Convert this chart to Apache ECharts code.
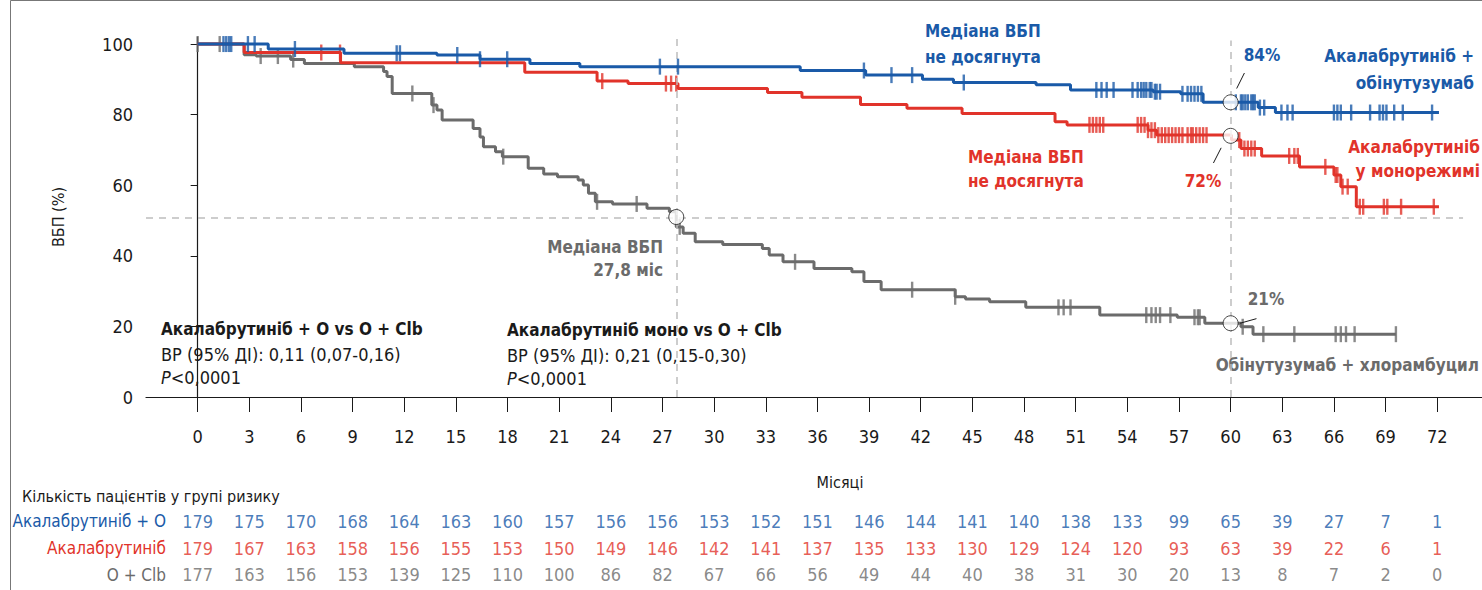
<!DOCTYPE html>
<html>
<head>
<meta charset="utf-8">
<script src="https://cdn.jsdelivr.net/npm/echarts@6.0.0/dist/echarts.min.js"></script>
<style>
  html, body { margin: 0; padding: 0; background: #fff; }
  #chart { width: 1482px; height: 590px; }
</style>
</head>
<body>
<div id="chart"></div>
<script>
// Kaplan-Meier curves (months, % PFS)
var blueT = [0, 4.1, 8.5, 13.9, 16.4, 19.3, 22.2, 35.0, 38.8, 42.1, 43.9, 48.7, 50.7, 55.5, 57.1, 58.4, 61.6, 62.6, 72.1];
var blueS = [100, 98.6, 97.4, 96.9, 95.7, 94.5, 93.6, 92.5, 91.2, 90.0, 89.1, 88.5, 87.0, 86.5, 85.9, 83.5, 82.0, 80.6, 80.6];

var redT = [0, 2.7, 8.3, 19.0, 23.2, 25.0, 27.9, 33.1, 35.1, 38.5, 41.2, 44.4, 49.8, 50.5, 55.2, 55.7, 60.05, 60.6, 61.8, 64.0, 66.0, 66.4, 67.3, 72.1];
var redS = [100, 97.6, 94.7, 92.0, 89.5, 88.8, 87.4, 86.3, 84.9, 82.9, 81.8, 80.3, 78.0, 77.1, 75.6, 74.2, 72.8, 70.4, 68.3, 65.2, 62.9, 59.6, 53.9, 53.9];

var greyT = [0, 2.7, 3.4, 5.4, 6.2, 9.1, 10.8, 11.0, 11.3, 13.6, 13.9, 14.2, 16.0, 16.4, 16.6, 17.3, 17.7, 19.2, 20.1, 20.9, 22.1, 22.4, 22.7, 23.1, 24.1, 26.1, 27.4, 27.8, 28.2, 28.9, 30.5, 32.8, 33.2, 34.0, 35.8, 38.0, 38.7, 39.7, 44.0, 44.6, 46.0, 48.1, 52.4, 56.9, 58.5, 60.6, 61.3, 69.6];
var greyS = [100, 97.0, 96.6, 95.6, 94.5, 93.6, 92.2, 90.8, 86.0, 82.7, 81.3, 78.5, 76.1, 73.7, 70.9, 69.5, 68.1, 64.8, 63.2, 62.4, 61.5, 60.1, 57.7, 55.3, 54.7, 53.5, 52.5, 48.2, 46.4, 44.0, 43.2, 42.1, 40.2, 38.3, 36.4, 35.5, 32.7, 30.4, 28.4, 27.8, 27.0, 25.4, 23.2, 22.6, 20.9, 19.9, 17.8, 17.8];

// censored observations (months)
var blueCens = [1.5, 1.66, 1.82, 1.95, 2.92, 3.31, 5.65, 11.56, 11.75, 15.08, 16.4, 17.98, 26.85, 27.9, 38.7, 40.3, 41.5, 44.5,
  52.2, 52.5, 52.8, 53.2, 54.3, 54.6, 54.8, 54.95, 55.1, 55.3, 55.4, 55.6, 55.7, 55.9, 57.2, 57.5, 57.7, 57.9, 58.1, 58.3,
  60.3, 60.6, 60.7, 60.85, 61.0, 61.2, 61.3, 61.4, 61.7, 61.95, 62.95, 63.3, 63.6, 66.0, 66.2, 66.4, 67.0, 68.1, 68.65,
  68.85, 69.05, 69.5, 70.0, 71.7];
var redCens = [7.18, 8.27, 23.5, 27.2, 27.5, 27.8, 51.8, 52.0, 52.2, 52.4, 52.6, 54.6, 54.8, 55.0, 55.2, 55.4, 55.6, 55.8,
  56.0, 56.2, 56.4, 56.6, 56.8, 57.0, 57.2, 57.5, 57.7, 57.8, 58.0, 58.2, 58.4, 58.6, 60.5, 60.8, 61.0, 61.2, 61.4,
  63.4, 63.7, 63.9, 65.5, 66.1, 66.2, 66.5, 66.8, 67.5, 67.7, 68.9, 69.1, 69.9, 71.8];
var greyCens = [0.0, 1.28, 3.66, 4.66, 5.55, 12.47, 13.7, 17.75, 23.2, 25.5, 28.0, 34.7, 41.5, 44.0, 50.0, 50.3, 50.7,
  55.1, 55.4, 55.65, 55.9, 56.5, 57.9, 58.1, 58.2, 60.7, 61.9, 63.7, 66.1, 66.4, 66.7, 67.2, 69.6];

// medians / landmark
var medianGrey = 27.8;
var landmark = 60;
var medianLevel = 50.8;
var landmarkPts = [[27.8, 51.0], [60, 83.5], [60, 74.0], [60, 20.9]];

// axis ticks
var xTicks = [0, 3, 6, 9, 12, 15, 18, 21, 24, 27, 30, 33, 36, 39, 42, 45, 48, 51, 54, 57, 60, 63, 66, 69, 72];
var yTicks = [0, 20, 40, 60, 80, 100];

// numbers at risk
var riskRows = ['Акалабрутиніб + О', 'Акалабрутиніб', 'О + Clb'];
var riskAO = [179, 175, 170, 168, 164, 163, 160, 157, 156, 156, 153, 152, 151, 146, 144, 141, 140, 138, 133, 99, 65, 39, 27, 7, 1];
var riskA = [179, 167, 163, 158, 156, 155, 153, 150, 149, 146, 142, 141, 137, 135, 133, 130, 129, 124, 120, 93, 63, 39, 22, 6, 1];
var riskOClb = [177, 163, 156, 153, 139, 125, 110, 100, 86, 82, 67, 66, 56, 49, 44, 40, 38, 31, 30, 20, 13, 8, 7, 2, 0];

var BLUE = '#1a5aa8', RED = '#e1332a', GREY = '#6b6b6b', INK = '#1a1a1a';
var FONT = "'Liberation Sans Narrow', 'DejaVu Sans Condensed', Roboto, sans-serif";

function zip(a, b) {
  return a.map(function (v, i) { return [v, b[i]]; });
}
function survAt(T, S, t) {
  var v = S[0];
  for (var i = 0; i < T.length; i++) { if (T[i] <= t) v = S[i]; }
  return v;
}
function cens(T, S, C) {
  return C.map(function (t) { return [t, survAt(T, S, t)]; });
}
function kmLine(name, T, S, color, z) {
  return {
    name: name, type: 'line', step: 'end', data: zip(T, S),
    symbol: 'none', z: z, silent: true,
    lineStyle: { color: color, width: 3 }
  };
}
function censSeries(T, S, C, color, z) {
  return {
    type: 'scatter', data: cens(T, S, C), z: z, silent: true,
    symbol: 'rect', symbolSize: [2.4, 16],
    itemStyle: { color: color }
  };
}
function riskSeries(row, values, color) {
  return {
    type: 'scatter', xAxisIndex: 1, yAxisIndex: 1, symbolSize: 0, silent: true,
    data: xTicks.map(function (m, i) { return [m, row, values[i]]; }),
    label: {
      show: true, position: 'inside', color: color, fontSize: 18, fontFamily: FONT,
      formatter: function (p) { return String(p.value[2]); }
    }
  };
}
function txt(text, x, y, color, align, bold, size) {
  var fs = size || (bold ? 17 : 18);
  return {
    type: 'text', x: x, y: y, silent: true,
    style: {
      text: text, fill: color, align: align || 'left', verticalAlign: 'middle',
      font: (bold ? 'bold ' : '') + fs + 'px ' + FONT,
      rich: { i: { fontStyle: 'italic', fontSize: fs, fontFamily: FONT, fill: color } }
    }
  };
}

var chart = echarts.init(document.getElementById('chart'), null, { renderer: 'svg' });

var option = {
  backgroundColor: '#fff',
  animation: false,
  grid: [
    { left: 146, right: 0, top: 37, bottom: 193 },
    { left: 146, right: 0, top: 508, height: 80 }
  ],
  xAxis: [
    {
      type: 'value', min: -3, max: 74.6, interval: 3,
      axisLine: { lineStyle: { color: INK, width: 1.2 } },
      axisTick: { customValues: xTicks, length: 15, lineStyle: { color: INK, width: 1 } },
      axisLabel: { customValues: xTicks, margin: 30, color: INK, fontSize: 18, fontFamily: FONT },
      splitLine: { show: false }
    },
    { gridIndex: 1, type: 'value', min: -3, max: 74.6, show: false }
  ],
  yAxis: [
    {
      type: 'value', min: 0, max: 102, interval: 20,
      name: 'ВБП (%)', nameLocation: 'middle', nameGap: 80, nameRotate: 90,
      nameTextStyle: { color: INK, fontSize: 16, fontFamily: FONT },
      axisLine: { show: true, lineStyle: { color: INK, width: 1.2 } },
      axisTick: { show: true, customValues: yTicks, length: 7, lineStyle: { color: INK } },
      axisLabel: { customValues: yTicks, margin: 13, color: INK, fontSize: 18, fontFamily: FONT },
      splitLine: { show: false }
    },
    {
      gridIndex: 1, type: 'category', data: riskRows, inverse: true,
      axisLine: { show: false }, axisTick: { show: false }, splitLine: { show: false },
      axisLabel: {
        margin: -20, fontSize: 17, fontFamily: FONT,
        color: function (v, i) { return [BLUE, RED, '#6b6b6b'][i]; }
      }
    }
  ],
  series: [
    {
      type: 'line', data: [], silent: true, z: 1,
      markLine: {
        silent: true, symbol: 'none', label: { show: false },
        lineStyle: { color: '#bdbdbd', type: [7, 6], width: 1.5 },
        data: [
          [{ coord: [medianGrey, 0] }, { coord: [medianGrey, 102] }],
          [{ coord: [landmark, 0] }, { coord: [landmark, 101] }],
          [{ coord: [-3, medianLevel] }, { coord: [73.5, medianLevel] }]
        ]
      }
    },
    kmLine('O + Clb', greyT, greyS, GREY, 3),
    kmLine('Акалабрутиніб', redT, redS, RED, 4),
    kmLine('Акалабрутиніб + О', blueT, blueS, BLUE, 5),
    censSeries(greyT, greyS, greyCens, GREY, 3),
    censSeries(redT, redS, redCens, RED, 4),
    censSeries(blueT, blueS, blueCens, BLUE, 5),
    {
      type: 'line', data: [], silent: true, z: 6,
      markLine: {
        silent: true, symbol: 'none', label: { show: false },
        lineStyle: { color: INK, type: 'solid', width: 1 },
        data: [
          [{ coord: [60.8, 91.8] }, { coord: [60.35, 87.4] }],
          [{ coord: [59.45, 70.6] }, { coord: [59.0, 66.3] }],
          [{ coord: [61.5, 22.2] }, { coord: [60.55, 20.9] }]
        ]
      }
    },
    {
      type: 'scatter', data: landmarkPts, z: 10, silent: true,
      symbol: 'circle', symbolSize: 15,
      itemStyle: { color: '#fff', borderColor: INK, borderWidth: 1 }
    },
    riskSeries(riskRows[0], riskAO, BLUE),
    riskSeries(riskRows[1], riskA, RED),
    riskSeries(riskRows[2], riskOClb, '#6b6b6b')
  ],
  graphic: [
    {
      type: 'polyline', silent: true,
      shape: { points: [[10.5, 590], [10.5, 0.5], [1482, 0.5]] },
      style: { stroke: '#777', lineWidth: 1, fill: 'none' }
    },
    txt('Медіана ВБП', 925, 31, BLUE, 'left', true),
    txt('не досягнута', 925, 57, BLUE, 'left', true),
    txt('84%', 1262, 55, BLUE, 'center', true),
    txt('Акалабрутиніб +', 1474, 56, BLUE, 'right', true),
    txt('обінутузумаб', 1474, 83, BLUE, 'right', true),
    txt('Медіана ВБП', 968, 157, RED, 'left', true),
    txt('не досягнута', 968, 181, RED, 'left', true),
    txt('72%', 1203, 181, RED, 'center', true),
    txt('Акалабрутиніб', 1480, 147, RED, 'right', true),
    txt('у монорежимі', 1480, 171, RED, 'right', true),
    txt('Медіана ВБП', 663, 247, GREY, 'right', true),
    txt('27,8 міс', 663, 270, GREY, 'right', true),
    txt('21%', 1266, 299, GREY, 'center', true),
    txt('Обінутузумаб + хлорамбуцил', 1479, 365, GREY, 'right', true),
    txt('Акалабрутиніб + О vs О + Clb', 161, 329, INK, 'left', true),
    txt('ВР (95% ДІ): 0,11 (0,07-0,16)', 161, 354, INK, 'left', false),
    txt('{i|P}<0,0001', 161, 377, INK, 'left', false),
    txt('Акалабрутиніб моно vs О + Clb', 507, 330, INK, 'left', true),
    txt('ВР (95% ДІ): 0,21 (0,15-0,30)', 507, 355, INK, 'left', false),
    txt('{i|P}<0,0001', 507, 378, INK, 'left', false),
    txt('Місяці', 840, 482, INK, 'center', false, 16),
    txt('Кількість пацієнтів у групі ризику', 22, 496, INK, 'left', false, 16)
  ]
};

chart.setOption(option);
</script>
</body>
</html>
